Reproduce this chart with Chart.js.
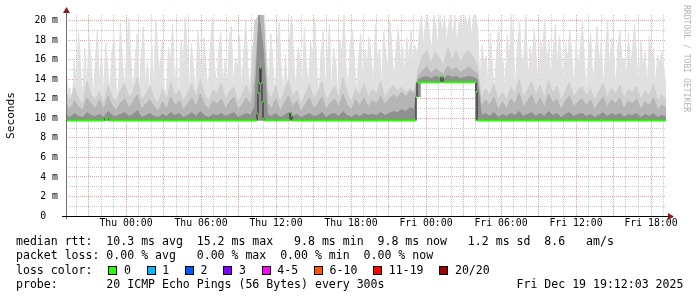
<!DOCTYPE html>
<html>
<head>
<meta charset="utf-8">
<script src="https://cdn.jsdelivr.net/npm/chart.js@4.4.1/dist/chart.umd.min.js"></script>
<style>
  html, body { margin: 0; padding: 0; background: #fff; }
  #wrap { position: relative; width: 697px; height: 297px; overflow: hidden; }
  #graph { position: absolute; left: 0; top: 0; }
  .mono { font-family: 'DejaVu Sans Mono', monospace; color: #000; }
  #legend { position: absolute; left: 16px; top: 234px; font-size: 11.55px; line-height: 14.4px; white-space: pre; }
  .sw { display: inline-block; width: 7px; height: 7px; border: 1px solid #000; margin: 0 6.5px 0 2px; vertical-align: -1px; }
  #mark { position: absolute; left: 682px; top: 5px; writing-mode: vertical-rl; font-size: 8.1px; color: #b4b4b4; white-space: pre; }
</style>
</head>
<body>
<div id="wrap">
  <canvas id="graph" width="697" height="297"></canvas>
  <div id="legend" class="mono"></div>
  <div id="mark" class="mono">RRDTOOL / TOBI OETIKER</div>
</div>
<script>
// time axis in hours relative to Thu 00:00 (graph runs Wed 19:12 .. Fri 19:12)
const startHour = -4.8;
const endHour = 43.2;

const xLabelHours = [0, 6, 12, 18, 24, 30, 36, 42];
const xLabels = ['Thu 00:00', 'Thu 06:00', 'Thu 12:00', 'Thu 18:00', 'Fri 00:00', 'Fri 06:00', 'Fri 12:00', 'Fri 18:00'];
const yTickValues = [0, 1, 2, 3, 4, 5, 6, 7, 8, 9, 10, 11, 12, 13, 14, 15, 16, 17, 18, 19, 20];

// median rtt (ms), value holds from each hour mark until the next
const medianHours = [-4.8, -1.7, -1.4, 10.48, 10.56, 10.64, 10.72, 10.80, 10.88, 10.96, 11.04, 13.12, 13.20, 13.28, 23.20, 23.28, 25.20, 25.36, 28.00, 28.08];
const medianMs    = [ 9.8, 10.0,  9.8, 10.5,  12.6,  13.6,  15.2,  13.6,  11.7,  10.0,   9.8,  10.6,  10.3,   9.8,  12.2,  13.7,  14.3,  13.7,  12.7,   9.8];

// highest ping, one sample every 10 minutes (ms)
const smokeMax = [
  15.2, 12.3, 13.1, 11.4, 16.1, 12.5, 18.9, 15.3, 12.1, 17.2, 12.9, 18.4,
  16.0, 11.7, 15.7, 19.1, 13.3, 16.6, 12.4, 17.8, 15.1, 12.7, 16.9, 18.2,
  13.2, 12.0, 19.8, 15.9, 12.8, 17.0, 20.3, 16.2, 12.6, 15.5, 18.6, 12.3,
  16.4, 19.4, 13.4, 15.8, 12.2, 17.5, 13.1, 20.1, 16.3, 15.0, 18.0, 12.9,
  12.7, 17.3, 15.6, 19.7, 13.0, 16.2, 12.1, 18.1, 15.4, 20.4, 16.8, 12.5,
  17.6, 15.1, 12.3, 19.0, 16.5, 13.2, 18.3, 15.2, 12.4, 17.1, 20.2, 15.8,
  12.8, 16.9, 18.8, 13.1, 15.9, 12.2, 17.7, 19.5, 13.3, 16.1, 15.0, 18.5,
  12.9, 16.7, 20.0, 15.3, 12.6, 17.4, 16.0, 17.0, 20.6, 20.6, 20.6, 20.6,
  16.4, 13.4, 18.7, 15.5, 12.1, 17.9, 19.9, 15.0, 12.7, 16.6, 12.3, 18.2,
  20.5, 15.7, 13.0, 17.3, 16.1, 12.4, 19.3, 15.4, 13.2, 17.8, 16.3, 20.3,
  15.1, 12.2, 16.8, 18.9, 13.1, 15.9, 19.6, 12.5, 17.2, 15.6, 12.4, 18.0,
  16.7, 20.6, 15.2, 12.8, 17.6, 19.1, 15.8, 12.6, 16.4, 18.6, 13.4, 17.0,
  15.3, 18.4, 16.2, 13.1, 19.7, 15.9, 17.1, 13.3, 18.9, 16.5, 15.2, 20.1,
  16.8, 13.4, 17.7, 19.2, 15.6, 17.4, 14.6, 18.3, 15.8, 19.0, 14.9, 17.5,
  16.2, 18.8, 20.6, 17.4, 19.9, 20.6, 18.2, 17.1, 20.6, 19.3, 16.8, 20.6,
  18.7, 20.6, 17.6, 19.5, 20.6, 18.1, 20.6, 17.3, 19.8, 20.6, 18.5, 20.6,
  19.4, 20.6, 18.3, 20.6, 20.6, 19.1, 13.3, 17.5, 15.6, 16.4, 12.4, 18.7,
  15.2, 12.9, 17.0, 19.3, 15.5, 16.2, 12.6, 18.6, 15.8, 20.6, 16.9, 13.2,
  17.8, 19.9, 15.1, 16.5, 20.4, 13.4, 17.4, 15.6, 19.2, 16.0, 13.0, 18.1,
  16.7, 20.2, 15.3, 17.9, 13.1, 16.8, 19.6, 15.4, 18.4, 16.1, 13.3, 17.7,
  15.9, 19.1, 16.3, 13.0, 18.0, 15.2, 17.3, 20.0, 15.7, 12.8, 16.9, 18.6,
  13.4, 16.1, 19.4, 15.5, 17.8, 13.2, 16.4, 20.1, 15.0, 18.2, 16.6, 12.9,
  17.5, 19.0, 15.6, 16.2, 13.3, 18.7, 15.3, 17.1, 19.6, 16.0, 13.1, 17.9,
  15.4, 16.8, 12.7, 18.4, 15.9, 17.2, 13.4, 16.5, 15.7, 16.9, 15.1, 13.1
];
// inner smoke bands, one sample every 20 minutes (ms)
const smokeUpper = [
  12.6, 11.8, 13.2, 12.0, 11.5, 13.8, 12.4, 11.9, 12.8, 11.6, 13.4, 12.2,
  11.7, 12.9, 13.6, 12.1, 12.7, 14.2, 11.8, 12.5, 13.3, 12.0, 11.6, 13.0,
  11.9, 13.7, 12.3, 12.9, 11.7, 12.6, 13.5, 12.1, 14.0, 12.4, 11.8, 12.9,
  12.5, 13.6, 11.9, 12.8, 13.2, 11.7, 12.4, 13.4, 12.2, 20.0, 20.6, 20.6,
  12.8, 12.0, 13.4, 11.6, 12.7, 13.9, 12.2, 12.9, 11.5, 12.4, 13.5, 12.0,
  12.6, 13.8, 11.8, 12.5, 13.3, 12.1, 14.2, 12.6, 11.7, 13.0, 12.4, 13.6,
  12.2, 13.0, 12.5, 13.8, 12.0, 12.9, 13.4, 12.8, 13.2, 12.6, 13.1, 12.7,
  15.2, 16.4, 17.0, 15.6, 16.8, 16.2, 15.4, 17.2, 16.0, 16.9, 15.7, 16.6,
  17.0, 16.3, 15.5,
  12.1, 13.0, 12.4, 13.5, 11.8, 12.7, 11.9, 13.2, 12.5, 14.0, 12.2, 12.9,
  13.8, 12.3, 13.4, 12.0, 13.9, 12.6, 13.3, 11.8, 12.8, 13.7, 12.1, 12.9,
  13.2, 12.3, 13.0, 11.9, 12.7, 13.6, 12.2, 13.1, 12.5, 13.4, 12.0, 13.0,
  12.6, 13.3, 11.9, 12.8, 12.3, 13.5, 11.8, 12.4, 12.0
];
const smokeMid = [
  11.4, 10.9, 11.8, 11.2, 10.8, 12.1, 11.5, 11.0, 11.9, 10.9, 12.3, 11.3,
  10.8, 11.6, 12.0, 11.1, 11.7, 12.4, 10.9, 11.5, 11.9, 11.2, 10.8, 11.7,
  11.0, 12.2, 11.3, 11.8, 10.9, 11.5, 12.1, 11.2, 12.5, 11.4, 10.9, 11.8,
  11.5, 12.0, 11.0, 11.7, 12.2, 10.9, 11.4, 12.1, 11.3, 14.0, 20.6, 20.6,
  11.6, 11.0, 12.0, 10.8, 11.5, 12.3, 11.2, 11.8, 10.7, 11.4, 12.1, 11.0,
  11.5, 12.2, 10.9, 11.6, 12.0, 11.1, 12.5, 11.4, 10.9, 11.9, 11.3, 12.1,
  11.2, 11.8, 11.5, 12.3, 11.4, 12.0, 12.4, 12.1, 12.7, 12.2, 12.8, 12.5,
  14.4, 14.9, 15.3, 14.6, 15.1, 14.8, 14.5, 15.4, 14.9, 15.2, 14.7, 15.0,
  15.3, 14.9, 14.6,
  11.2, 11.9, 11.4, 12.2, 10.9, 11.7, 11.0, 12.0, 11.5, 12.6, 11.2, 11.8,
  12.4, 11.3, 12.1, 11.1, 12.5, 11.6, 12.0, 10.9, 11.8, 12.3, 11.2, 11.7,
  12.0, 11.3, 11.9, 10.9, 11.6, 12.2, 11.2, 11.9, 11.5, 12.1, 11.0, 11.8,
  11.5, 12.0, 10.9, 11.7, 11.3, 12.1, 10.9, 11.4, 11.1
];
const smokeLow = [
  10.3, 10.1, 10.5, 10.2, 10.1, 10.6, 10.3, 10.2, 10.4, 10.1, 10.7, 10.3,
  10.2, 10.4, 10.6, 10.2, 10.4, 10.8, 10.1, 10.3, 10.5, 10.2, 10.1, 10.4,
  10.2, 10.6, 10.3, 10.5, 10.1, 10.3, 10.6, 10.2, 10.7, 10.3, 10.1, 10.4,
  10.3, 10.5, 10.2, 10.4, 10.6, 10.1, 10.3, 10.5, 10.3, 11.2, 20.6, 17.0,
  10.4, 10.2, 10.5, 10.1, 10.3, 10.6, 10.2, 10.4, 10.1, 10.3, 10.5, 10.2,
  10.3, 10.6, 10.1, 10.4, 10.5, 10.2, 10.7, 10.3, 10.1, 10.4, 10.2, 10.5,
  10.3, 10.4, 10.3, 10.6, 10.3, 10.5, 10.7, 10.6, 10.9, 10.7, 11.1, 10.9,
  14.0, 14.2, 14.3, 14.1, 14.3, 14.2, 14.0, 14.4, 14.2, 14.3, 14.1, 14.2,
  14.3, 14.2, 14.0,
  10.3, 10.5, 10.2, 10.6, 10.1, 10.4, 10.2, 10.5, 10.3, 10.7, 10.2, 10.4,
  10.6, 10.2, 10.5, 10.2, 10.7, 10.3, 10.5, 10.1, 10.4, 10.6, 10.2, 10.4,
  10.5, 10.2, 10.4, 10.1, 10.3, 10.6, 10.2, 10.5, 10.3, 10.5, 10.1, 10.4,
  10.3, 10.5, 10.1, 10.4, 10.2, 10.5, 10.1, 10.3, 10.2
];

const lossLabels = ['0', '1', '2', '3', '4-5', '6-10', '11-19', '20/20'];
const lossColors = ['#26ff00', '#00b8ff', '#0059ff', '#7e00ff', '#ff00ff', '#ff5500', '#ff0000', '#a10000'];

const smokeColors = ['#e0e0e0', '#cecece', '#b5b5b5', '#8f8f8f'];
const MINOR = 'rgba(140,140,140,0.45)';
const MAJOR = 'rgba(190,30,30,0.4)';
const FONT = "'DejaVu Sans Mono', monospace";

function medianAt(h) {
  let v = medianMs[0];
  for (let k = 0; k < medianHours.length; k++) if (medianHours[k] <= h) v = medianMs[k];
  return v;
}
// bottom of the smoke: lowest median around a sample
function smokeFloor(h0, h1) {
  let v = medianAt(h0);
  medianHours.forEach((mh, k) => { if (mh > h0 && mh < h1) v = Math.min(v, medianMs[k]); });
  return v;
}
function sampleTimes(n) {
  const step = (endHour - startHour) / (n - 1);
  return Array.from({ length: n }, (_, i) => startHour + i * step);
}

const bandHours = sampleTimes(smokeUpper.length);
const bandStep = bandHours[1] - bandHours[0];
const floorPts = bandHours.map(h => ({ x: h, y: smokeFloor(h - bandStep / 2, h + bandStep / 2) }));

function smokeSet(values, color, order) {
  const hours = sampleTimes(values.length);
  return {
    data: values.map((v, i) => ({ x: hours[i], y: v })),
    borderColor: color, backgroundColor: color, borderWidth: 1, pointRadius: 0,
    fill: 0, order: order
  };
}

const medianLine = medianHours.map((h, k) => ({ x: h, y: medianMs[k] }));
medianLine.push({ x: endHour, y: medianMs[medianMs.length - 1] });
const medianFlat = [];
medianHours.forEach((h, k) => {
  const next = k + 1 < medianHours.length ? medianHours[k + 1] : endHour;
  medianFlat.push({ x: h, y: medianMs[k] }, { x: next, y: medianMs[k] });
});

const rrdAxes = {
  id: 'rrdAxes',
  afterDraw(chart) {
    const { ctx, chartArea: a } = chart;
    ctx.save();
    ctx.lineWidth = 1;
    ctx.strokeStyle = '#707070';
    ctx.beginPath(); ctx.moveTo(a.left + 0.5, a.bottom + 3); ctx.lineTo(a.left + 0.5, a.top - 4); ctx.stroke();
    ctx.strokeStyle = '#000';
    ctx.beginPath(); ctx.moveTo(a.left - 4, a.bottom + 0.5); ctx.lineTo(a.right + 3, a.bottom + 0.5); ctx.stroke();
    ctx.fillStyle = '#8b1a1a';
    ctx.beginPath(); ctx.moveTo(a.left + 0.5, a.top - 8); ctx.lineTo(a.left - 3, a.top - 2); ctx.lineTo(a.left + 4, a.top - 2); ctx.closePath(); ctx.fill();
    ctx.beginPath(); ctx.moveTo(a.right + 8, a.bottom + 0.5); ctx.lineTo(a.right + 2, a.bottom - 3); ctx.lineTo(a.right + 2, a.bottom + 4); ctx.closePath(); ctx.fill();
    ctx.restore();
  }
};

new Chart(document.getElementById('graph'), {
  type: 'line',
  data: {
    datasets: [
      { data: floorPts, stepped: 'middle', borderColor: 'rgba(0,0,0,0)', borderWidth: 0, pointRadius: 0, fill: false, order: 20 },
      smokeSet(smokeMax, smokeColors[0], 9),
      smokeSet(smokeUpper, smokeColors[1], 8),
      smokeSet(smokeMid, smokeColors[2], 7),
      smokeSet(smokeLow, smokeColors[3], 6),
      { data: medianLine, stepped: true, borderColor: '#202020', borderWidth: 1, pointRadius: 0, fill: false, order: 2 },
      {
        data: medianFlat, borderColor: '#26ff00', borderWidth: 2, pointRadius: 0, fill: false, order: 1,
        segment: { borderColor: c => c.p0.parsed.x === c.p1.parsed.x ? 'rgba(0,0,0,0)' : '#26ff00' }
      }
    ]
  },
  options: {
    responsive: false,
    animation: false,
    events: [],
    layout: { padding: { top: 15, right: 31, left: 0, bottom: 0 } },
    plugins: { legend: { display: false }, tooltip: { enabled: false } },
    scales: {
      x: {
        type: 'linear', min: startHour, max: endHour, offset: false, z: 1,
        afterBuildTicks: s => { s.ticks = []; for (let h = -4; h <= 43; h++) s.ticks.push({ value: h }); },
        afterFit: s => { s.height = 81; },
        ticks: {
          autoSkip: false, maxRotation: 0, minRotation: 0, padding: 2, color: '#000',
          font: { family: FONT, size: 9.8 },
          callback: v => { const k = xLabelHours.indexOf(v); return k < 0 ? '' : xLabels[k]; }
        },
        grid: { drawTicks: false, lineWidth: 1, color: c => (c.tick && ((c.tick.value % 3) + 3) % 3 === 0) ? MAJOR : MINOR, borderDash: [1, 1] },
        border: { display: false, dash: [1, 1] }
      },
      y: {
        type: 'linear', min: 0, max: 20.6, z: 1,
        afterBuildTicks: s => { s.ticks = yTickValues.map(v => ({ value: v })); },
        afterFit: s => { s.width = 66; },
        ticks: {
          autoSkip: false, padding: 8, color: '#000',
          font: { family: FONT, size: 9.8 },
          callback: v => v === 0 ? '0  ' : (v % 2 === 0 ? v + ' m' : '')
        },
        title: { display: true, text: 'Seconds', color: '#000', font: { family: FONT, size: 11.2 } },
        grid: { drawTicks: false, lineWidth: 1, color: c => (c.tick && c.tick.value % 2 === 0) ? MAJOR : MINOR, borderDash: [1, 1] },
        border: { display: false, dash: [1, 1] }
      }
    }
  },
  plugins: [rrdAxes]
});

// legend block under the graph
const legend = document.getElementById('legend');
const lines = [
  'median rtt:  10.3 ms avg  15.2 ms max   9.8 ms min  9.8 ms now   1.2 ms sd  8.6   am/s',
  'packet loss: 0.00 % avg   0.00 % max  0.00 % min  0.00 % now'
];
let html = lines.join('\n') + '\nloss color:  ';
html += lossLabels.map((l, k) => '<span class="sw" style="background:' + lossColors[k] + '"></span>' + l).join('  ');
html += '\nprobe:       20 ICMP Echo Pings (56 Bytes) every 300s                   Fri Dec 19 19:12:03 2025';
legend.innerHTML = html;
</script>
</body>
</html>
